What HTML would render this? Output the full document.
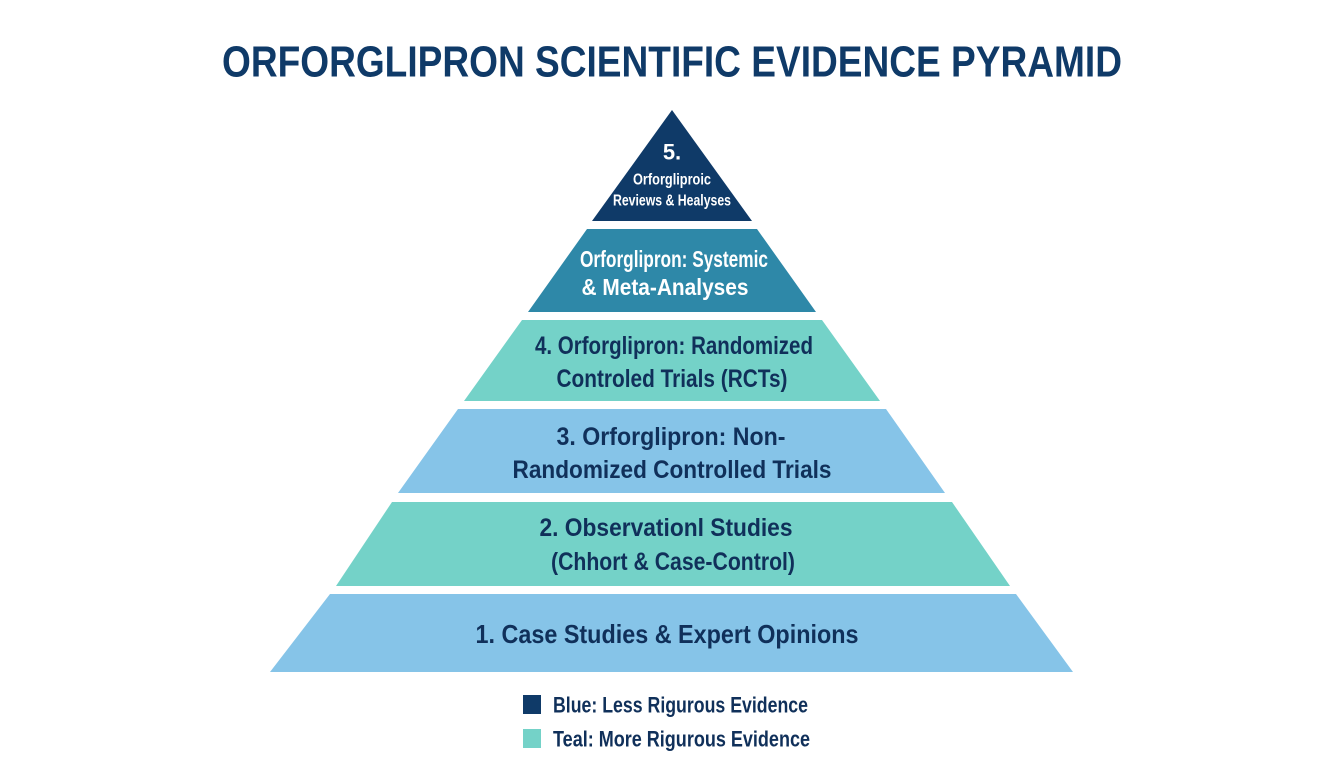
<!DOCTYPE html>
<html><head><meta charset="utf-8"><style>
html,body{margin:0;padding:0;background:#fff;}
svg{display:block;}
text{font-family:"Liberation Sans Narrow","Liberation Sans",sans-serif;font-weight:bold;}
</style></head><body>
<svg width="1344" height="768" viewBox="0 0 1344 768" xmlns="http://www.w3.org/2000/svg">
<rect width="1344" height="768" fill="#fff"/>
<text x="672" y="62" text-anchor="middle" dominant-baseline="central" font-size="44" fill="#0f3a68" textLength="900" lengthAdjust="spacingAndGlyphs">ORFORGLIPRON SCIENTIFIC EVIDENCE PYRAMID</text>

<polygon points="672,110 752,221 592,221" fill="#0f3a68"/>
<polygon points="587,229 757,229 816,312 528,312" fill="#2e88a8"/>
<polygon points="522,320 822,320 880,401 464,401" fill="#74d2c8"/>
<polygon points="458,409 886,409 945,493 398,493" fill="#86c4e8"/>
<polygon points="392,502 952,502 1010,586 336,586" fill="#74d2c8"/>
<polygon points="330,594 1016,594 1073,672 270,672" fill="#86c4e8"/>

<g fill="#fff" text-anchor="middle" dominant-baseline="central">
<text x="672" y="152" font-size="22">5.</text>
<text x="672" y="180" font-size="16" textLength="78" lengthAdjust="spacingAndGlyphs">Orforgliproic</text>
<text x="672" y="201" font-size="16" textLength="118" lengthAdjust="spacingAndGlyphs">Reviews &amp; Healyses</text>
<text x="674" y="259" font-size="23" textLength="188" lengthAdjust="spacingAndGlyphs">Orforglipron: Systemic</text>
<text x="665" y="287" font-size="23" textLength="167" lengthAdjust="spacingAndGlyphs">&amp; Meta-Analyses</text>
</g>
<g fill="#10305a" text-anchor="middle" dominant-baseline="central">
<text x="674" y="346" font-size="25" textLength="278" lengthAdjust="spacingAndGlyphs">4. Orforglipron: Randomized</text>
<text x="672" y="379" font-size="25" textLength="231" lengthAdjust="spacingAndGlyphs">Controled Trials (RCTs)</text>
<text x="671" y="437" font-size="25" textLength="229" lengthAdjust="spacingAndGlyphs">3. Orforglipron: Non-</text>
<text x="672" y="470" font-size="25" textLength="319" lengthAdjust="spacingAndGlyphs">Randomized Controlled Trials</text>
<text x="666" y="528" font-size="25" textLength="253" lengthAdjust="spacingAndGlyphs">2. Observationl Studies</text>
<text x="673" y="562" font-size="25" textLength="244" lengthAdjust="spacingAndGlyphs">(Chhort &amp; Case-Control)</text>
<text x="667" y="634" font-size="26" textLength="383" lengthAdjust="spacingAndGlyphs">1. Case Studies &amp; Expert Opinions</text>
</g>

<rect x="523" y="695" width="18" height="19" fill="#0f3a68"/>
<rect x="523" y="729" width="18" height="19" fill="#74d2c8"/>
<g fill="#10305a" dominant-baseline="central">
<text x="553" y="705" font-size="22" textLength="255" lengthAdjust="spacingAndGlyphs">Blue: Less Rigurous Evidence</text>
<text x="553" y="739" font-size="22" textLength="257" lengthAdjust="spacingAndGlyphs">Teal: More Rigurous Evidence</text>
</g>
</svg>
</body></html>
